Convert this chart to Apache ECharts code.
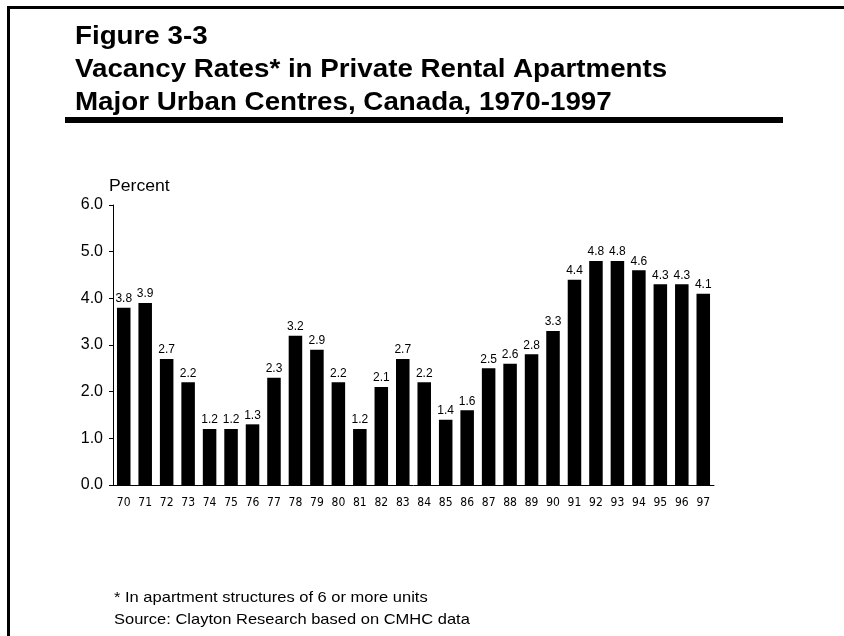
<!DOCTYPE html>
<html>
<head>
<meta charset="utf-8">
<script src="https://cdn.jsdelivr.net/npm/echarts@6/dist/echarts.min.js"></script>
<style>
html,body{margin:0;padding:0;background:#fff;}
#chart{width:844px;height:636px;}
</style>
</head>
<body>
<div id="chart"></div>
<script>
const years = ['70','71','72','73','74','75','76','77','78','79','80','81','82','83','84','85','86','87','88','89','90','91','92','93','94','95','96','97'];
const vacancyRates = [3.8,3.9,2.7,2.2,1.2,1.2,1.3,2.3,3.2,2.9,2.2,1.2,2.1,2.7,2.2,1.4,1.6,2.5,2.6,2.8,3.3,4.4,4.8,4.8,4.6,4.3,4.3,4.1];
const yTicks = [0,1,2,3,4,5,6];
const titleLines = ['Figure 3-3','Vacancy Rates* in Private Rental Apartments','Major Urban Centres, Canada, 1970-1997'];
const notes = ['* In apartment structures of 6 or more units','Source: Clayton Research based on CMHC data'];

const chart = echarts.init(document.getElementById('chart'));
const font = '"Liberation Sans", Arial, sans-serif';
const titleMid = [37, 70, 103];
const graphics = [
  {type:'rect', shape:{x:8,y:6,width:836,height:3}, style:{fill:'#000'}, silent:true},
  {type:'rect', shape:{x:7,y:6,width:3,height:630}, style:{fill:'#000'}, silent:true},
  {type:'rect', shape:{x:65,y:117,width:718,height:6}, style:{fill:'#000'}, silent:true},
  {type:'text', x:109, y:187, scaleX:1.1, style:{text:'Percent', font:'16px ' + font, fill:'#000', verticalAlign:'middle', align:'left'}, silent:true}
];
titleLines.forEach((t,i)=>{
  graphics.push({type:'text', x:75, y:titleMid[i], scaleX:1.11, style:{text:t, font:'bold 25px ' + font, fill:'#000', verticalAlign:'middle', align:'left'}, silent:true});
});
const noteMid = [598, 620];
notes.forEach((t,i)=>{
  graphics.push({type:'text', x:114, y:noteMid[i], scaleX:1.1, style:{text:t, font:'15px ' + font, fill:'#000', verticalAlign:'middle', align:'left'}, silent:true});
});

chart.setOption({
  animation:false,
  backgroundColor:'#fff',
  graphic: graphics,
  grid:{left:113, right:130, top:205, bottom:151, containLabel:false},
  xAxis:{
    type:'category', data:years,
    axisLine:{show:true, lineStyle:{color:'#000', width:1}},
    axisTick:{show:false},
    axisLabel:{color:'#000', fontSize:12, fontFamily:'"Liberation Sans Narrow", "DejaVu Sans Condensed", ' + font, margin:12, interval:0}
  },
  yAxis:{
    type:'value', min:yTicks[0], max:yTicks[yTicks.length-1], interval:1,
    axisLine:{show:true, lineStyle:{color:'#000', width:1}},
    axisTick:{show:true, inside:false, length:4, lineStyle:{color:'#000'}},
    splitLine:{show:false},
    axisLabel:{color:'#000', fontSize:16, fontFamily:font, margin:10, formatter:v=>v.toFixed(1)}
  },
  series:[{
    type:'bar', data:vacancyRates, barCategoryGap:'37%',
    itemStyle:{color:'#000'},
    label:{show:true, position:'top', distance:3, color:'#000', fontSize:12, fontFamily:font, formatter:p=>p.value.toFixed(1)}
  }]
});
</script>
</body>
</html>
